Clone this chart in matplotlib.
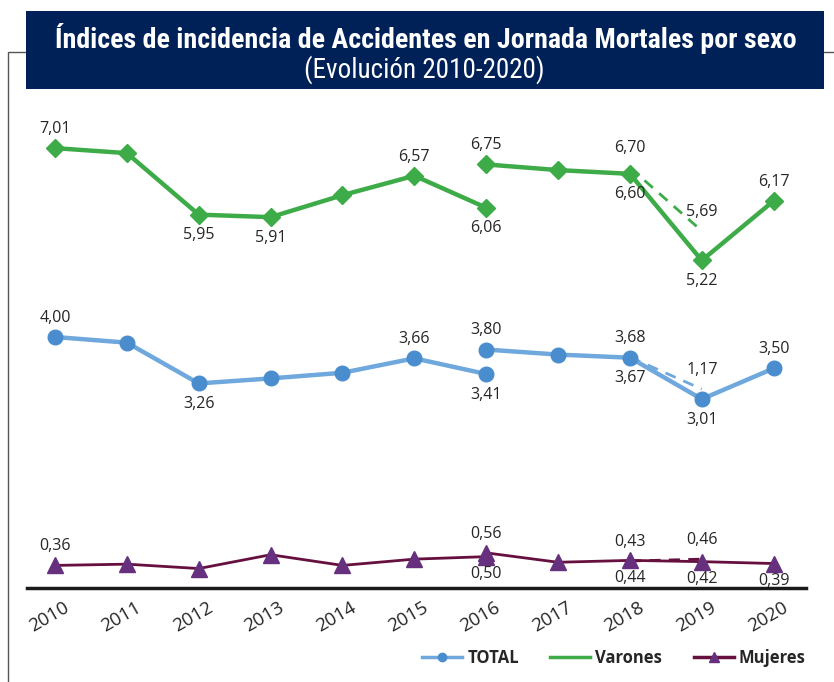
import matplotlib
matplotlib.use('Agg')
import matplotlib.pyplot as plt
from matplotlib.lines import Line2D
from matplotlib.patches import Rectangle
import matplotlib.transforms as mtransforms

# Data
years = ['2010', '2011', '2012', '2013', '2014', '2015', '2016', '2017', '2018', '2019', '2020']

varones_old = [7.01, 6.93, 5.95, 5.91, 6.26, 6.57, 6.06]          # 2010-2016
varones_new = [6.75, 6.66, 6.60, 5.22, 6.17]                      # 2016-2020
varones_alt = [6.70, 5.69]                                        # 2018-2019 dashed

total_old = [4.00, 3.91, 3.26, 3.34, 3.43, 3.66, 3.41]
total_new = [3.80, 3.72, 3.67, 3.01, 3.50]
total_alt = [3.68, 3.17]

mujeres_old = [0.36, 0.38, 0.31, 0.53, 0.36, 0.46, 0.50]
mujeres_new = [0.56, 0.41, 0.44, 0.42, 0.39]
mujeres_alt = [0.43, 0.46]

# (series, index-in-series, text, position)
labels_varones = [(varones_old, 0, '7,01', 'up'), (varones_old, 2, '5,95', 'down'),
                  (varones_old, 3, '5,91', 'down'), (varones_old, 5, '6,57', 'up'),
                  (varones_old, 6, '6,06', 'down'), (varones_new, 0, '6,75', 'up'),
                  (varones_new, 2, '6,60', 'down'), (varones_new, 3, '5,22', 'down'),
                  (varones_new, 4, '6,17', 'up'), (varones_alt, 0, '6,70', 'up'),
                  (varones_alt, 1, '5,69', 'up')]
labels_total = [(total_old, 0, '4,00', 'up'), (total_old, 2, '3,26', 'down'),
                (total_old, 5, '3,66', 'up'), (total_old, 6, '3,41', 'down'),
                (total_new, 0, '3,80', 'up'), (total_new, 2, '3,67', 'down'),
                (total_new, 3, '3,01', 'down'), (total_new, 4, '3,50', 'up'),
                (total_alt, 0, '3,68', 'up'), (total_alt, 1, '1,17', 'up')]
labels_mujeres = [(mujeres_old, 0, '0,36', 'up'), (mujeres_old, 6, '0,50', 'down'),
                  (mujeres_new, 0, '0,56', 'up'), (mujeres_new, 2, '0,44', 'down'),
                  (mujeres_new, 3, '0,42', 'down'), (mujeres_new, 4, '0,39', 'down'),
                  (mujeres_alt, 0, '0,43', 'up'), (mujeres_alt, 1, '0,46', 'up')]

# Colors
navy = '#002157'
green = '#3dab47'
blue_line = '#6fa8dc'
blue_mark = '#4a8dcf'
muj_line = '#66103f'
muj_mark = '#66307e'
text_col = '#262626'

plt.rcParams['font.family'] = ['Open Sans', 'DejaVu Sans']
title_fonts = ['Roboto Condensed', 'Roboto', 'DejaVu Sans']

fig = plt.figure(figsize=(8.34, 6.82), dpi=100)
W, H = 834, 682

# outer frame and title box
fig.patches.append(Rectangle((8 / W, -0.1), 1.2, (H - 52) / H + 0.1, transform=fig.transFigure,
                             fill=False, edgecolor='#555555', lw=1.0, zorder=0))
fig.patches.append(Rectangle((26 / W, 1 - 89 / H), (824 - 26) / W, 78 / H, transform=fig.transFigure,
                             facecolor=navy, edgecolor='none', zorder=1))
fig.text(426 / W, 1 - 38 / H, 'Índices de incidencia de Accidentes en Jornada Mortales por sexo',
         family=title_fonts, fontweight='bold', fontsize=20.2,
         color='white', ha='center', va='center', zorder=2)
fig.text(424 / W, 1 - 70 / H, '(Evolución 2010-2020)',
         family=title_fonts, fontsize=19.5,
         color='white', ha='center', va='center', zorder=2)

ax = fig.add_axes([27 / W, (H - 588) / H, (806 - 27) / W, 502 / H])
ax.patch.set_alpha(0)

x_old = list(range(0, 7))
x_new = list(range(6, 11))
x_alt = [8, 9]
xpos = {id(varones_old): x_old, id(varones_new): x_new, id(varones_alt): x_alt,
        id(total_old): x_old, id(total_new): x_new, id(total_alt): x_alt,
        id(mujeres_old): x_old, id(mujeres_new): x_new, id(mujeres_alt): x_alt}

# Varones
ax.plot(x_alt, varones_alt, color=green, lw=2.0, ls=(0, (4, 3)), zorder=2)
for xs, ys in [(x_old, varones_old), (x_new, varones_new)]:
    ax.plot(xs, ys, color=green, lw=3.2, marker='D', ms=9, mfc=green, mec=green, zorder=3)

# Total
ax.plot(x_alt, total_alt, color=blue_line, lw=2.0, ls=(0, (4, 3)), zorder=2)
for xs, ys in [(x_old, total_old), (x_new, total_new)]:
    ax.plot(xs, ys, color=blue_line, lw=3.2, zorder=3)
    ax.plot(xs, ys, ls='none', marker='o', ms=10.5, mfc=blue_mark, mec=blue_mark, zorder=4)

# Mujeres
ax.plot(x_alt, mujeres_alt, color=muj_line, lw=2.0, ls=(0, (4, 3)), zorder=2)
for xs, ys in [(x_old, mujeres_old), (x_new, mujeres_new)]:
    ax.plot(xs, ys, color=muj_line, lw=2.0, zorder=3)
    ax.plot(xs, ys, ls='none', marker='^', ms=11, mfc=muj_mark, mec=muj_mark, zorder=4)

# data labels
for group in (labels_varones, labels_total, labels_mujeres):
    for series, i, txt, pos in group:
        xv = xpos[id(series)][i]
        yv = series[i]
        if pos == 'up':
            ax.annotate(txt, (xv, yv), xytext=(0, 8), textcoords='offset points',
                        ha='center', va='bottom', fontsize=11.5, color=text_col, zorder=5)
        else:
            down = -7 if group is labels_mujeres else -9
            ax.annotate(txt, (xv, yv), xytext=(0, down), textcoords='offset points',
                        ha='center', va='top', fontsize=11.5, color=text_col, zorder=5)

ax.set_xlim(-0.39, 10.45)
ax.set_ylim(0, 8)
for s in ['top', 'right', 'left']:
    ax.spines[s].set_visible(False)
ax.spines['bottom'].set_linewidth(2.5)
ax.spines['bottom'].set_color('#1a1a1a')
ax.set_yticks([])
ax.set_xticks(range(len(years)))
ax.set_xticklabels(years, rotation=30, ha='right', rotation_mode='anchor', va='center',
                   fontsize=13.5, color=text_col)
ax.tick_params(axis='x', length=0, pad=13)
offset = mtransforms.ScaledTranslation(9 / 72, 0, fig.dpi_scale_trans)
for lab in ax.get_xticklabels():
    lab.set_transform(lab.get_transform() + offset)

# legend
handles = [Line2D([], [], color=blue_line, lw=2.5, marker='o', ms=6, mfc=blue_mark, mec=blue_mark),
           Line2D([], [], color=green, lw=2.5),
           Line2D([], [], color=muj_line, lw=2.5, marker='^', ms=7, mfc=muj_mark, mec=muj_mark)]
leg = fig.legend(handles, ['TOTAL', 'Varones', 'Mujeres'], loc='center',
                 bbox_to_anchor=(614 / W, 1 - 658 / H), ncol=3, frameon=False,
                 handlelength=2.4, handletextpad=0.3, columnspacing=1.9,
                 prop={'weight': 'bold', 'size': 12})
for t in leg.get_texts():
    t.set_color(text_col)

fig.savefig('out.png', dpi=100)
